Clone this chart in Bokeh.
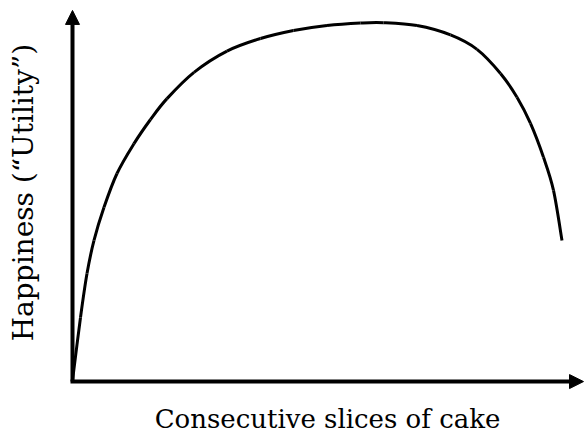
from bokeh.plotting import figure
from bokeh.models import Range1d, Arrow, NormalHead, Label, ColumnDataSource
from bokeh.embed import file_html
from bokeh.resources import INLINE

# Curve: consecutive slices of cake (x) vs. happiness / utility (y)
slices = [0.0, 0.16, 0.29, 0.43, 0.63, 0.89, 1.23, 1.56, 1.89, 2.43, 3.09, 3.76,
          4.42, 5.09, 5.76, 6.22, 6.89, 7.56, 8.09, 8.56, 8.89, 9.16, 9.42, 9.62, 9.79]
utility = [0.0, 17.5, 29.7, 38.9, 48.1, 57.5, 65.8, 72.5, 78.3, 85.6, 91.5, 95.0,
           97.2, 98.6, 99.3, 99.4, 98.6, 96.0, 92.0, 85.3, 78.7, 71.4, 62.0, 52.8, 38.9]

x_label = "Consecutive slices of cake"
y_label = "Happiness (\u201cUtility\u201d)"

p = figure(width=584, height=435, output_backend="svg", toolbar_location=None,
           x_axis_type=None, y_axis_type=None, min_border=0,
           x_range=Range1d(-1.44, 10.24), y_range=Range1d(-15.28, 105.56))
p.outline_line_color = None
p.xgrid.visible = False
p.ygrid.visible = False
p.background_fill_color = "white"
p.border_fill_color = "white"

# axes with arrow heads
p.add_layout(Arrow(end=NormalHead(size=14, fill_color="black", line_color="black"),
                   x_start=0, y_start=-0.3, x_end=0, y_end=102.8,
                   line_width=4, line_color="black"))
p.add_layout(Arrow(end=NormalHead(size=14, fill_color="black", line_color="black"),
                   x_start=-0.04, y_start=-0.3, x_end=10.22, y_end=-0.3,
                   line_width=4, line_color="black"))

# smooth curve through the read points (Catmull-Rom -> cubic Bezier segments)
n = len(slices)
seg = dict(x0=[], y0=[], x1=[], y1=[], cx0=[], cy0=[], cx1=[], cy1=[])
for i in range(n - 1):
    xa, ya = slices[i], utility[i]
    xb, yb = slices[i + 1], utility[i + 1]
    xp, yp = (slices[i - 1], utility[i - 1]) if i > 0 else (xa, ya)
    xn, yn = (slices[i + 2], utility[i + 2]) if i + 2 < n else (xb, yb)
    seg["x0"].append(xa); seg["y0"].append(ya)
    seg["x1"].append(xb); seg["y1"].append(yb)
    seg["cx0"].append(xa + (xb - xp) / 6.0); seg["cy0"].append(ya + (yb - yp) / 6.0)
    seg["cx1"].append(xb - (xn - xa) / 6.0); seg["cy1"].append(yb - (yn - ya) / 6.0)
p.bezier(x0="x0", y0="y0", x1="x1", y1="y1", cx0="cx0", cy0="cy0", cx1="cx1", cy1="cy1",
         source=ColumnDataSource(seg), line_width=3, line_color="black")

font = "DejaVu Serif"
p.add_layout(Label(x=5.1, y=-10.6, text=x_label, text_font=font, text_font_size="26px",
                   text_align="center", text_baseline="alphabetic", text_color="black"))
p.add_layout(Label(x=-0.98, y=52.2, text=y_label, text_font=font, text_font_size="28px",
                   angle=1.5707963, text_align="center", text_baseline="alphabetic",
                   text_color="black"))

open("out.html", "w").write(file_html(p, INLINE))
